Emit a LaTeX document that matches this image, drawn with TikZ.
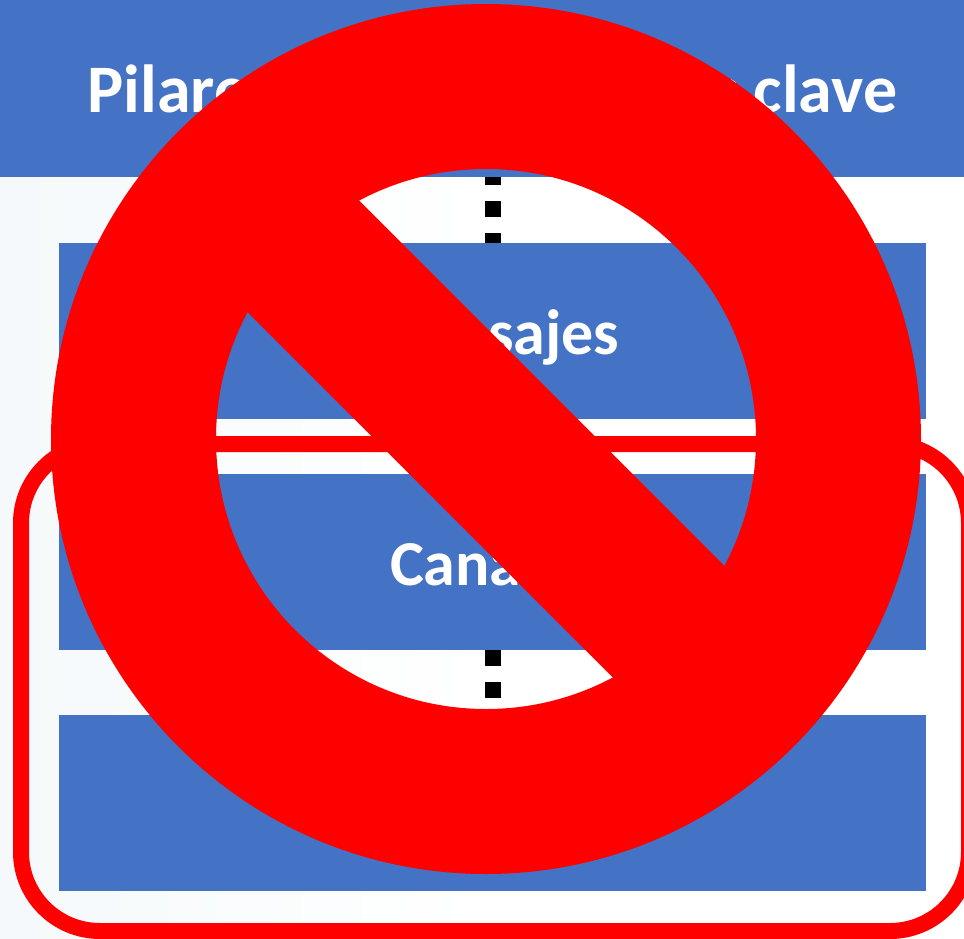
\documentclass[tikz,border=0pt]{standalone}
\usepackage{fontspec}
\setmainfont{Carlito}
\usetikzlibrary{positioning, calc}

\definecolor{boxblue}{HTML}{4472C4}
\definecolor{palebg}{HTML}{F5F9FB}
\definecolor{signred}{HTML}{FF0000}

\begin{document}
\begin{tikzpicture}[
        x=1pt, y=-1pt,
        node distance=54pt and 0pt,
        label/.style={text=white, text height=47pt, text depth=0pt, inner sep=0pt, font=\fontsize{64}{64}\selectfont\bfseries},
        header/.style={rectangle, fill=boxblue, inner sep=0pt, minimum width=964pt, minimum height=177pt},
        box/.style={rectangle, fill=boxblue, label, minimum width=867pt, minimum height=176.5pt},
        link/.style={line width=16pt, dash pattern=on 16pt off 16pt}
        ]

        \useasboundingbox (0,0) rectangle (964,938);
        \fill[left color=palebg, right color=white, middle color=white] (0,177) rectangle (964,938);

        \node (head) [header] at (482,88.5) {};
        \node (headtext) [label, font=\fontsize{68}{68}\selectfont\bfseries] at (492.5,88.5) {Pilares de los mensajes clave};
        \node (msg) [box] at (492.5,331) {Mensajes};
        \node (chan) [box, below=of msg] {Canales};
        \node (extra) [box] at (492.5,803) {};

        \draw [link, dash phase=8pt] (msg.north |- head.south) -- (msg.north);
        \draw [link] (chan.south) -- (extra.north);

        % frame
        \begin{scope}
            \clip (0,0) rectangle (964,938);
            \draw [signred, line width=16pt, rounded corners=79pt] (21,444) rectangle (969,931);
        \end{scope}

        % sign
        \coordinate (mid) at (486,439);
        \draw [signred, line width=165pt] (mid) circle [radius=352.5pt];
        \draw [signred, line width=158pt] ($(mid)+(-255,-255)$) -- ($(mid)+(255,255)$);
    \end{tikzpicture}
\end{document}
